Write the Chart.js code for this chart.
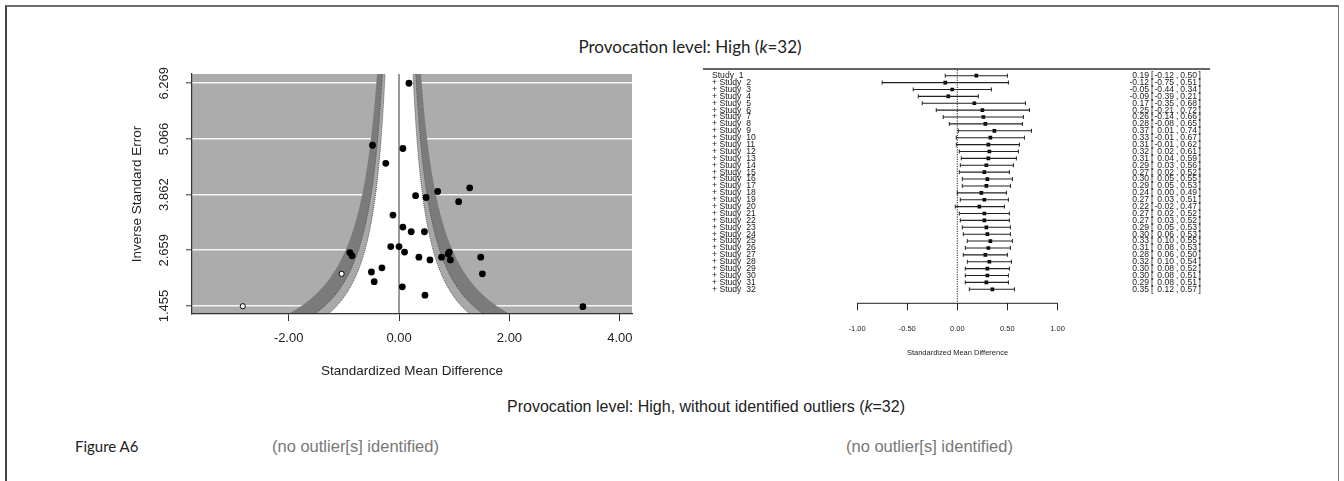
<!DOCTYPE html>
<html>
<head>
<meta charset="utf-8">
<title>Figure A6</title>
<script src="https://cdn.jsdelivr.net/npm/chart.js@4.4.1/dist/chart.umd.min.js"></script>
<style>
  body { margin: 0; width: 1344px; height: 481px; background: #fff; position: relative; overflow: hidden; font-family: "Liberation Sans", Arial, sans-serif; }
  #frame { position: absolute; left: 5px; top: 5px; width: 1334px; height: 480px; box-sizing: border-box; border-top: 2px solid #6b6b6b; border-left: 2px solid #444; border-right: 1px solid #777; }
  .txt { position: absolute; white-space: nowrap; line-height: 20px; }
  #title1 { left: 690px; top: 37px; transform: translateX(-50%); font-family: Lato, sans-serif; font-size: 17px; color: #222; }
  #title2 { left: 706px; top: 397px; transform: translateX(-50%); font-size: 16px; color: #222; }
  #figLabel { left: 75px; top: 436px; font-family: Lato, sans-serif; font-size: 15px; color: #222; }
  .none { top: 436px; font-size: 16.5px; color: #777; }
  #funnelBox { position: absolute; left: 100px; top: 60px; }
  #forestBox { position: absolute; left: 700px; top: 62px; }
</style>
</head>
<body>
<div id="frame"></div>
<div class="txt" id="title1">Provocation level: High (<i>k</i>=32)</div>
<div id="funnelBox"><canvas id="funnelChart" width="560" height="330"></canvas></div>
<div id="forestBox"><canvas id="forestChart" width="520" height="300"></canvas></div>
<div class="txt" id="title2">Provocation level: High, without identified outliers (<i>k</i>=32)</div>
<div class="txt" id="figLabel">Figure A6</div>
<div class="txt none" style="left:272px">(no outlier[s] identified)</div>
<div class="txt none" style="left:846px">(no outlier[s] identified)</div>
<script>
// funnel plot: observed studies (effect size, inverse SE)
const funnelX = [0.18, -0.48, 0.07, -0.24, 0.30, 0.49, 0.70, 1.28, 1.08, -0.11, 0.07, 0.22, 0.46, -0.15, 0.00, 0.10,
  0.36, 0.56, 0.77, 0.91, 0.89, 0.93, 1.48, 1.51, -0.31, 0.06, 0.47, 3.33, -0.50, -0.45, -0.89, -0.85];
const funnelY = [6.27, 4.93, 4.86, 4.54, 3.84, 3.80, 3.93, 4.01, 3.71, 3.42, 3.16, 3.06, 3.06, 2.74, 2.74, 2.62,
  2.51, 2.45, 2.51, 2.62, 2.58, 2.45, 2.51, 2.15, 2.28, 1.87, 1.69, 1.44, 2.19, 1.98, 2.61, 2.54];
// imputed (open) studies
const imputedX = [-1.04, -2.83];
const imputedY = [2.15, 1.45];
const funnelXTicks = [-2, 0, 2, 4];
const funnelYTicks = [1.455, 2.659, 3.862, 5.066, 6.269];
const contourZ = [1.645, 1.96, 2.576];

// cumulative forest plot
const studyLabels = ["Study  1", "+ Study  2", "+ Study  3", "+ Study  4", "+ Study  5", "+ Study  6", "+ Study  7",
  "+ Study  8", "+ Study  9", "+ Study  10", "+ Study  11", "+ Study  12", "+ Study  13", "+ Study  14", "+ Study  15",
  "+ Study  16", "+ Study  17", "+ Study  18", "+ Study  19", "+ Study  20", "+ Study  21", "+ Study  22", "+ Study  23",
  "+ Study  24", "+ Study  25", "+ Study  26", "+ Study  27", "+ Study  28", "+ Study  29", "+ Study  30", "+ Study  31",
  "+ Study  32"];
const cumEst = [0.19, -0.12, -0.05, -0.09, 0.17, 0.25, 0.26, 0.28, 0.37, 0.33, 0.31, 0.32, 0.31, 0.29, 0.27, 0.30,
  0.29, 0.24, 0.27, 0.22, 0.27, 0.27, 0.29, 0.30, 0.33, 0.31, 0.28, 0.32, 0.30, 0.30, 0.29, 0.35];
const cumLower = [-0.12, -0.75, -0.44, -0.39, -0.35, -0.21, -0.14, -0.08, 0.01, -0.01, -0.01, 0.02, 0.04, 0.03, 0.02, 0.05,
  0.05, 0.00, 0.03, -0.02, 0.02, 0.03, 0.05, 0.06, 0.10, 0.08, 0.06, 0.10, 0.08, 0.08, 0.08, 0.12];
const cumUpper = [0.50, 0.51, 0.34, 0.21, 0.68, 0.72, 0.66, 0.65, 0.74, 0.67, 0.62, 0.61, 0.59, 0.56, 0.52, 0.55,
  0.53, 0.49, 0.51, 0.47, 0.52, 0.52, 0.53, 0.53, 0.55, 0.53, 0.50, 0.54, 0.52, 0.51, 0.51, 0.57];
const forestXTicks = [-1, -0.5, 0, 0.5, 1];

Chart.defaults.font.family = '"Liberation Sans", Arial, sans-serif';
Chart.defaults.color = '#222';

const shadeColors = ['#ffffff', '#a8a8a8', '#7b7b7b'];

const funnelShade = {
  id: 'funnelShade',
  beforeDraw(chart) {
    const { ctx, chartArea: a } = chart;
    ctx.save();
    ctx.fillStyle = '#acacac';
    ctx.fillRect(a.left, a.top, a.right - a.left, a.bottom - a.top);
    ctx.restore();
  },
  beforeDatasetsDraw(chart) {
    const { ctx, chartArea: a, scales: { x, y } } = chart;
    const steps = 240;
    const curve = (z, sign) => {
      const pts = [];
      for (let k = 0; k <= steps; k++) {
        const yv = y.min + (y.max - y.min) * k / steps;
        pts.push([x.getPixelForValue(sign * z / yv), y.getPixelForValue(yv)]);
      }
      return pts;
    };
    ctx.save();
    ctx.beginPath();
    ctx.rect(a.left, a.top, a.right - a.left, a.bottom - a.top - 1);
    ctx.clip();
    for (let i = contourZ.length - 1; i >= 0; i--) {
      const left = curve(contourZ[i], -1);
      const right = curve(contourZ[i], 1).reverse();
      ctx.beginPath();
      left.concat(right).forEach(([px, py], j) => (j ? ctx.lineTo(px, py) : ctx.moveTo(px, py)));
      ctx.closePath();
      ctx.fillStyle = shadeColors[i];
      ctx.fill();
    }
    // dotted contour edges around the 90-95% band
    ctx.setLineDash([1, 1]);
    ctx.strokeStyle = '#555';
    ctx.lineWidth = 1;
    contourZ.slice(0, 2).forEach((z) => {
      [-1, 1].forEach((s) => {
        ctx.beginPath();
        curve(z, s).forEach(([px, py], j) => (j ? ctx.lineTo(px, py) : ctx.moveTo(px, py)));
        ctx.stroke();
      });
    });
    ctx.setLineDash([]);
    const x0 = x.getPixelForValue(0);
    ctx.strokeStyle = '#777';
    ctx.lineWidth = 1.5;
    ctx.beginPath();
    ctx.moveTo(x0, a.top);
    ctx.lineTo(x0, a.bottom);
    ctx.stroke();
    ctx.restore();
  }
};

new Chart(document.getElementById('funnelChart'), {
  type: 'scatter',
  data: {
    datasets: [
      {
        data: funnelX.map((v, i) => ({ x: v, y: funnelY[i] })),
        backgroundColor: '#000', borderColor: '#000', pointRadius: 3.4, borderWidth: 0
      },
      {
        data: imputedX.map((v, i) => ({ x: v, y: imputedY[i] })),
        backgroundColor: '#fff', borderColor: '#000', pointRadius: 2.6, borderWidth: 1
      }
    ]
  },
  options: {
    responsive: false,
    animation: false,
    layout: { padding: { left: 0, right: 28, top: 14, bottom: 0 } },
    plugins: { legend: { display: false }, tooltip: { enabled: false } },
    scales: {
      x: {
        type: 'linear', min: -3.75, max: 4.22,
        afterBuildTicks: (s) => { s.ticks = funnelXTicks.map((v) => ({ value: v })); },
        afterFit: (s) => { s.height = 76; },
        grid: { drawOnChartArea: false, tickLength: 7, tickColor: '#333', tickWidth: 1 },
        border: { display: true, color: '#333', width: 1.2 },
        ticks: { callback: (v) => v.toFixed(2), font: { size: 13 }, padding: 10, color: '#222', maxRotation: 0 },
        title: { display: true, text: 'Standardized Mean Difference', font: { size: 13.5 }, padding: { top: 0, bottom: 11 }, color: '#222' }
      },
      y: {
        type: 'linear', min: 1.282, max: 6.47,
        afterBuildTicks: (s) => { s.ticks = funnelYTicks.map((v) => ({ value: v })); },
        afterFit: (s) => { s.width = 92; },
        grid: { color: '#f4f4f4', lineWidth: 1.6, tickLength: 6, tickColor: '#333', tickWidth: 1 },
        border: { display: true, color: '#333', width: 1.2 },
        ticks: { callback: (v) => v.toFixed(3), font: { size: 13 }, padding: 5, color: '#222', minRotation: 90, maxRotation: 90, crossAlign: 'center' },
        title: { display: true, text: 'Inverse Standard Error', font: { size: 13.5 }, padding: { top: 29, bottom: 0 }, color: '#222' }
      }
    }
  },
  plugins: [funnelShade]
});

const rows = studyLabels.map((_, i) => i + 1);

const forestText = {
  id: 'forestText',
  beforeDatasetsDraw(chart) {
    const { ctx, chartArea: a, scales: { x } } = chart;
    ctx.save();
    // top rule
    ctx.strokeStyle = '#666';
    ctx.lineWidth = 2;
    ctx.beginPath();
    ctx.moveTo(a.left - 2, a.top);
    ctx.lineTo(a.right, a.top);
    ctx.stroke();
    // dotted reference line at 0
    const x0 = x.getPixelForValue(0);
    ctx.setLineDash([1.2, 1.2]);
    ctx.strokeStyle = '#222';
    ctx.lineWidth = 1;
    ctx.beginPath();
    ctx.moveTo(x0, a.top + 1);
    ctx.lineTo(x0, a.bottom - 1);
    ctx.stroke();
    ctx.setLineDash([]);
    // axis line between first and last tick
    ctx.strokeStyle = '#222';
    ctx.beginPath();
    ctx.moveTo(x.getPixelForValue(forestXTicks[0]), a.bottom);
    ctx.lineTo(x.getPixelForValue(forestXTicks[forestXTicks.length - 1]), a.bottom);
    ctx.stroke();
    ctx.restore();
  },
  afterDatasetsDraw(chart) {
    const { ctx, scales: { y } } = chart;
    ctx.save();
    ctx.font = '8.6px "Liberation Sans", Arial, sans-serif';
    ctx.fillStyle = '#1a1a1a';
    ctx.textBaseline = 'middle';
    rows.forEach((r, i) => {
      const py = y.getPixelForValue(r);
      ctx.textAlign = 'left';
      ctx.fillText(studyLabels[i], 12, py);
      ctx.textAlign = 'right';
      ctx.fillText(cumEst[i].toFixed(2), 449, py);
      ctx.fillText(cumLower[i].toFixed(2), 474, py);
      ctx.fillText(cumUpper[i].toFixed(2), 497, py);
      ctx.textAlign = 'left';
      ctx.fillText('[', 451, py);
      ctx.fillText(',', 476, py);
      ctx.fillText(']', 498.5, py);
    });
    ctx.restore();
  }
};

const ciSegments = [];
rows.forEach((r, i) => {
  ciSegments.push({ x: cumLower[i], y: r }, { x: cumUpper[i], y: r }, { x: cumUpper[i], y: null });
});

new Chart(document.getElementById('forestChart'), {
  type: 'scatter',
  data: {
    datasets: [
      {
        data: ciSegments, showLine: true, pointRadius: 0, borderColor: '#222', borderWidth: 1.1, spanGaps: false
      },
      {
        data: rows.flatMap((r, i) => [{ x: cumLower[i], y: r }, { x: cumUpper[i], y: r }]),
        pointStyle: 'line', rotation: 90, pointRadius: 2, borderColor: '#222', borderWidth: 1
      },
      {
        data: rows.map((r, i) => ({ x: cumEst[i], y: r })),
        pointStyle: 'rect', pointRadius: 2.6, backgroundColor: '#000', borderColor: '#000', borderWidth: 0
      }
    ]
  },
  options: {
    responsive: false,
    animation: false,
    layout: { padding: { left: 5, right: 10, top: 7, bottom: 0 } },
    plugins: { legend: { display: false }, tooltip: { enabled: false } },
    scales: {
      x: {
        type: 'linear', min: -2.518, max: 2.522,
        afterBuildTicks: (s) => { s.ticks = forestXTicks.map((v) => ({ value: v })); },
        afterFit: (s) => { s.height = 58.7; },
        grid: { drawOnChartArea: false, tickLength: 7, tickColor: '#222', tickWidth: 1 },
        border: { display: false },
        ticks: { callback: (v) => v.toFixed(2), font: { size: 7.5 }, padding: 14, color: '#222', maxRotation: 0 },
        title: { display: true, text: 'Standardized Mean Difference', font: { size: 7.5 }, padding: { top: 0, bottom: 4.5 }, color: '#222' }
      },
      y: { type: 'linear', min: 0.03, max: 34.03, reverse: true, display: false }
    }
  },
  plugins: [forestText]
});
</script>
</body>
</html>
